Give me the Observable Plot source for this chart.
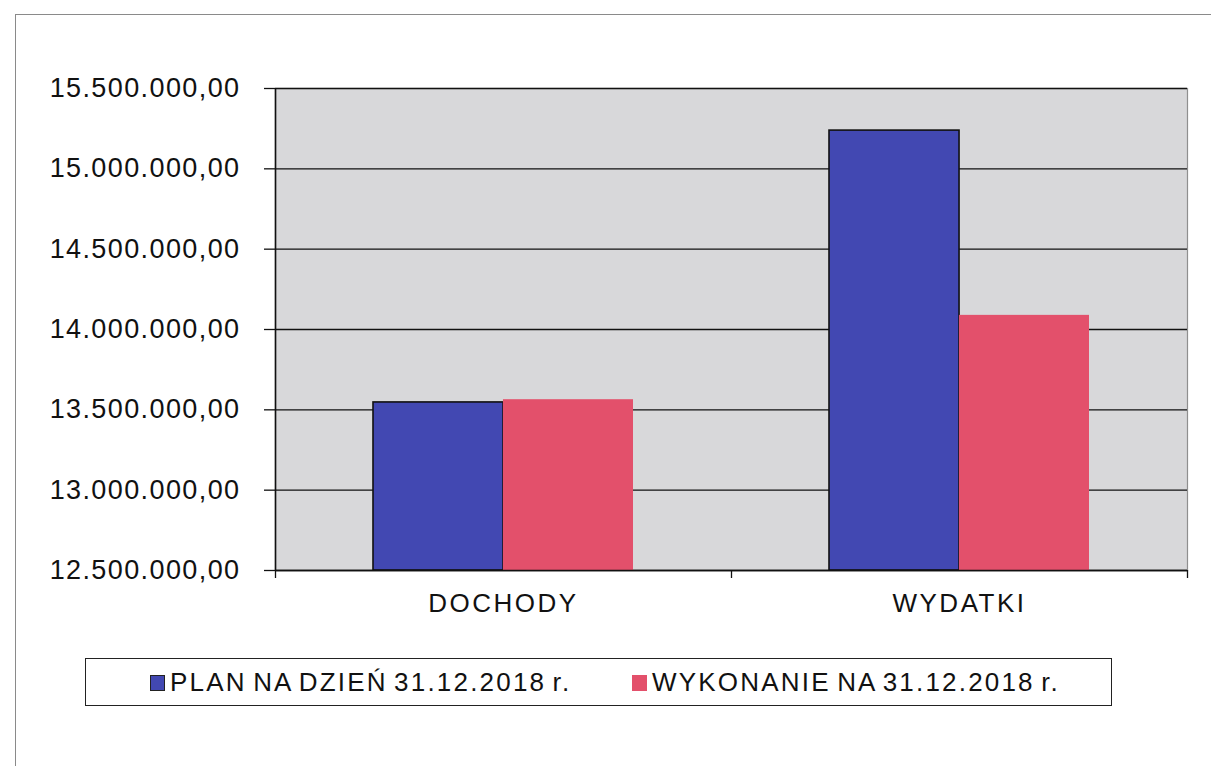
<!DOCTYPE html>
<html><head><meta charset="utf-8">
<script src="https://cdn.jsdelivr.net/npm/d3@7"></script>
<script src="https://cdn.jsdelivr.net/npm/@observablehq/plot@0.6"></script>
<style>
body{margin:0;background:#fff;font-family:"Liberation Sans",Arial,sans-serif;}
#page{position:relative;width:1211px;height:766px;overflow:hidden;}
#outer{position:absolute;left:15px;top:14px;width:1200px;height:800px;border-left:1.5px solid #8a8a8a;border-top:1.5px solid #8a8a8a;}
#chart{position:absolute;left:0;top:0;}
#legend{position:absolute;left:85px;top:658px;width:1025px;height:46px;border:1.5px solid #222;font-size:26px;color:#111;letter-spacing:2.2px;word-spacing:-3px;}
.item{display:flex;align-items:center;position:absolute;top:8px;white-space:nowrap;}
.sw{width:13px;height:14px;border:1.2px solid #222;margin-right:5px;}
</style></head>
<body><div id="page"><div id="outer"></div><div id="chart"></div>
<div id="legend"></div></div>
<script>
const categories = ["DOCHODY", "WYDATKI"];
const seriesNames = ["PLAN NA DZIEŃ 31.12.2018 r.", "WYKONANIE NA 31.12.2018 r."];
const planValues = [13546000, 15238000];
const wykonanieValues = [13563000, 14088000];
const yTicks = [12500000, 13000000, 13500000, 14000000, 14500000, 15000000, 15500000];
const colors = ["#4248b2", "#e3506b"];

const pl = d3.formatLocale({decimal: ",", thousands: ".", grouping: [3], currency: ["", " zł"]});
const fmt = pl.format(",.2f");

const W = 1211, H = 635;
const mL = 275, mR = 24, mT = 88, mB = H - 570;
const plotW = W - mL - mR;
const pad = 0.43;
const step = plotW / categories.length;
const bw = step * (1 - pad);
const yMin = yTicks[0], yMax = yTicks[yTicks.length - 1];

const data = categories.map((c, i) => ({category: c, plan: planValues[i], wyk: wykonanieValues[i]}));

const chart = Plot.plot({
  width: W, height: H,
  marginLeft: mL, marginRight: mR, marginTop: mT, marginBottom: mB,
  style: {fontFamily: "Liberation Sans, Arial, sans-serif", background: "transparent", overflow: "visible"},
  x: {domain: categories, paddingInner: pad, paddingOuter: pad / 2, label: null},
  y: {domain: [yMin, yMax], label: null},
  marks: [
    Plot.frame({fill: "#d8d8da", stroke: "#8f8f8f", strokeWidth: 1.2}),
    Plot.gridY(yTicks, {stroke: "#111", strokeOpacity: 1, strokeWidth: 1.3}),
    Plot.barY(data, {x: "category", y1: yMin, y2: "plan", fill: colors[0], stroke: "#111", strokeWidth: 1.6, insetRight: bw / 2}),
    Plot.barY(data, {x: "category", y1: yMin, y2: "wyk", fill: colors[1], insetLeft: bw / 2}),
    Plot.ruleY([yMin], {stroke: "#111", strokeWidth: 1.6}),
    Plot.ruleX([categories[0]], {stroke: "#111", strokeWidth: 1.6, dx: -step / 2}),
    Plot.ruleX(categories, {y1: yMin, y2: yMin, insetBottom: -8, stroke: "#111", strokeWidth: 1.3, dx: -step / 2}),
    Plot.ruleX([categories[categories.length - 1]], {y1: yMin, y2: yMin, insetBottom: -8, stroke: "#111", strokeWidth: 1.3, dx: step / 2}),
    Plot.axisY({ticks: yTicks, tickFormat: fmt, tickSize: 11, tickPadding: 24, fontSize: 27, stroke: "#111", strokeWidth: 1.3, fill: "#111"}),
    Plot.axisX({tickSize: 0, tickPadding: 23, fontSize: 26, fill: "#111"})
  ]
});
chart.querySelectorAll("g[aria-label='y-axis tick label']").forEach(g => g.setAttribute("letter-spacing", "1.4"));
chart.querySelectorAll("g[aria-label='x-axis tick label']").forEach(g => g.setAttribute("letter-spacing", "2.5"));
document.getElementById("chart").appendChild(chart);

const legend = document.getElementById("legend");
const lefts = [64, 546];
seriesNames.forEach((name, i) => {
  const it = document.createElement("div");
  it.className = "item";
  it.style.left = lefts[i] + "px";
  const sw = document.createElement("div");
  sw.className = "sw";
  sw.style.background = colors[i];
  if (i === 1) sw.style.borderColor = colors[i];
  const tx = document.createElement("span");
  tx.textContent = name;
  it.appendChild(sw); it.appendChild(tx);
  legend.appendChild(it);
});
</script></body></html>
